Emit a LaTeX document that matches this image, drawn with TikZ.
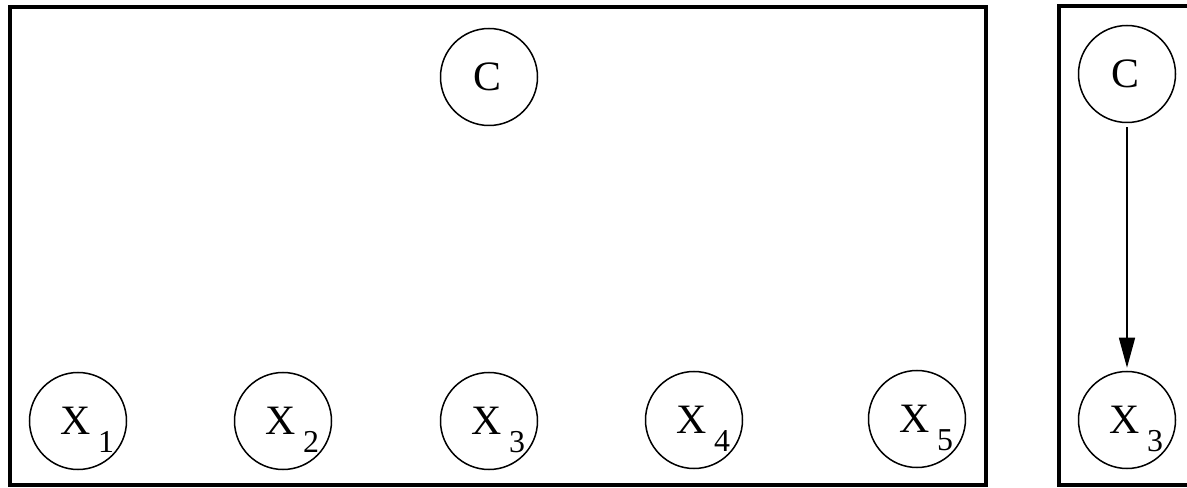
\documentclass[tikz,border=0pt]{standalone}
\usepackage{fontspec}
\setmainfont{Liberation Serif}
\usetikzlibrary{arrows.meta}
\newcommand{\xlab}[1]{\makebox[0pt][l]{\hspace*{-18bp}\raisebox{-3bp}{X}\hspace{8bp}\smash{\raisebox{-21bp}{\fontsize{32}{32}\selectfont #1}}}}
\newcommand{\clab}{\raisebox{-4bp}{\hspace*{-3bp}C}}
\tikzset{
  var/.style={circle, draw, line width=1.5bp, minimum size=97bp, inner sep=0pt, font=\fontsize{42}{42}\selectfont},
  frame/.style={line width=4bp},
  edge/.style={line width=1.5bp, -{Triangle[length=30bp,width=16bp]}, shorten <=4bp, shorten >=3bp}
}
\begin{document}
\begin{tikzpicture}[x=1bp,y=-1bp]
\useasboundingbox (0,0) rectangle (1187,488);
\clip (0,0) rectangle (1187,488);
\draw[frame] (10,7) rectangle (986,485);
\draw[frame] (1059,6) rectangle (1210,485);
\node[var] (c) at (489,77) {\clab};
\node[var] (x1) at (78,421) {\xlab{1}};
\node[var] (x2) at (283,421) {\xlab{2}};
\node[var] (x3) at (489,421) {\xlab{3}};
\node[var] (x4) at (694,420) {\xlab{4}};
\node[var] (x5) at (917,419) {\xlab{5}};
\node[var] (rc) at (1127,74) {\clab};
\node[var] (rx3) at (1127,420) {\xlab{3}};
\draw[edge] (rc) -- (rx3);
\end{tikzpicture}
\end{document}
